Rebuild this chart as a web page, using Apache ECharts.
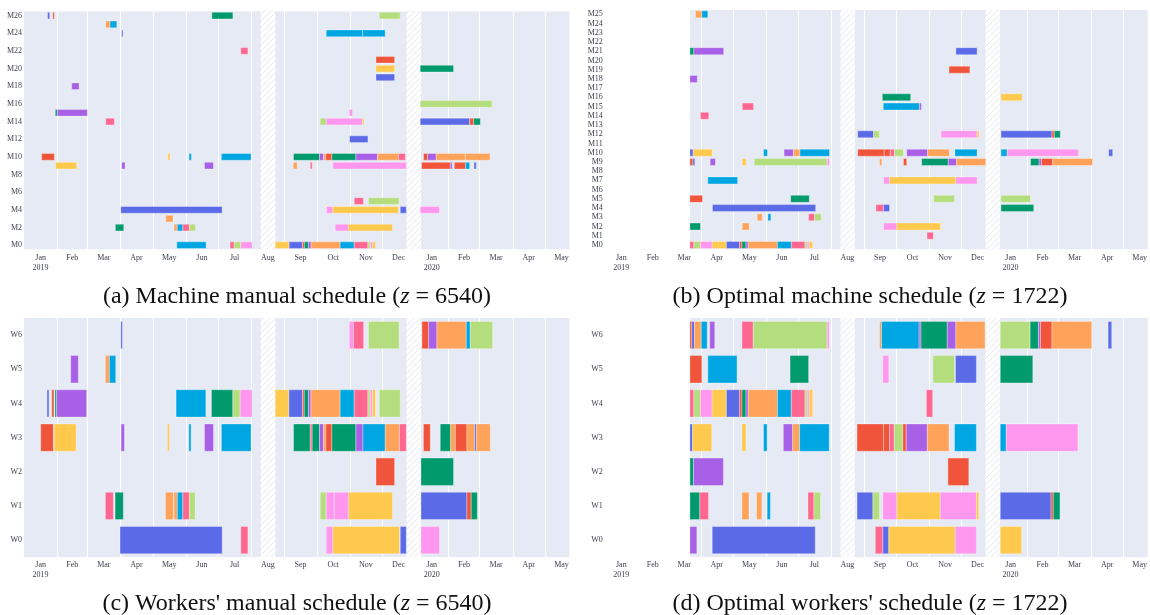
<!DOCTYPE html>
<html><head><meta charset="utf-8">
<script src="https://cdn.jsdelivr.net/npm/echarts@6/dist/echarts.min.js"></script>
<style>html,body{margin:0;padding:0;background:#fff}#c{width:1150px;height:615px}</style>
</head><body><div id="c"></div>
<script>
// ---------- axis labels ----------
const machinesA = Array.from({length:27}, (_, i) => 'M' + i);   // M0..M26
const machinesB = Array.from({length:26}, (_, i) => 'M' + i);   // M0..M25
const workers = ['W0','W1','W2','W3','W4','W5','W6'];
const monthLabels = ['Jan\n2019','Feb','Mar','Apr','May','Jun','Jul','Aug','Sep','Oct','Nov','Dec','Jan\n2020','Feb','Mar','Apr','May'];
const captions = [
  '(a) Machine manual schedule ({i|z} = 6540)',
  '(b) Optimal machine schedule ({i|z} = 1722)',
  "(c) Workers' manual schedule ({i|z} = 6540)",
  "(d) Optimal workers' schedule ({i|z} = 1722)"
];
// job colours
const jobColors = ['#5B6BE8','#F0553B','#009A6C','#A860E6','#FFA25A','#00A6E2','#FF6690','#B4DE7E','#FF97EE','#FFC94E'];

// day offsets from 2019-01-01
const horizonEnd = 509;
const manualStart = 0, optimalStart = 80;
const holidays = [[221, 234.5], [357, 370.5]];

// tasks: [row, startDay, endDay, job]
const tasksA = [
  [26,22,24,0],[26,26.8,28.3,1],[26,175.3,194.9,2],[26,331.5,351,7],
  [25,76.3,80.3,4],[25,80.3,86.6,5],
  [24,91.2,92.4,0],[24,282,316,5],[24,316,337,5],
  [22,202.3,208.9,6],
  [21,328.4,345.8,1],
  [20,328.4,345.8,9],[20,369.7,400.8,2],
  [19,328.4,345.8,0],
  [18,44.5,51.4,3],
  [16,369.7,436.7,7],
  [15,29.2,31.1,2],[15,31.1,59.1,3],[15,303.5,306.6,8],
  [14,76.3,84.3,6],[14,276.4,282,7],[14,282,315.9,8],[14,315.9,317.2,9],[14,369.7,415.8,0],[14,415.8,419.6,1],[14,419.6,425.8,2],
  [12,303.8,320.9,0],
  [10,16.5,28.3,1],[10,134.2,136.3,9],[10,154,156.2,5],[10,184.2,211.9,5],[10,251.5,275.7,2],[10,275.7,279.5,3],[10,279.5,281.7,4],[10,281.7,287.3,1],[10,287.3,309.7,2],[10,309.7,329.9,3],[10,329.9,349.5,4],[10,349.5,355.8,6],[10,372.8,376.6,1],[10,376.6,384.7,3],[10,384.7,411.8,4],[10,411.8,434.9,4],
  [9,29.6,49.2,9],[9,91.2,94.3,3],[9,168.4,176.8,3],[9,251.2,254.9,4],[9,267.1,268.9,6],[9,288.2,356.7,8],[9,371,397.8,1],[9,397.8,399.6,3],[9,401.5,412.1,1],[9,412.1,415.8,5],[9,419.9,422,0],
  [5,308.1,316.8,6],[5,321.4,349.9,7],
  [4,90.3,184.9,0],[4,282.3,288.2,8],[4,288.2,349.5,9],[4,351.1,356.7,0],[4,369.7,387.7,8],
  [3,132.3,139.1,4],
  [2,85.3,93.1,2],[2,140,143.1,4],[2,143.1,148.2,5],[2,148.2,154.4,6],[2,154.4,160,7],[2,290.4,302.8,8],[2,302.8,343.9,9],
  [0,142.6,169.9,5],[0,192.3,196.1,6],[0,196.1,202.3,7],[0,202.3,212.9,8],[0,234.4,247.4,9],[0,247.4,259.8,0],[0,259.8,261.6,1],[0,261.6,265.4,2],[0,265.4,267.9,3],[0,267.9,295,4],[0,295,308.1,5],[0,308.1,320.9,6],[0,320.9,323.1,7],[0,323.1,325.2,8],[0,325.2,328,9]
];
const tasksB = [
  [25,85.1,91,4],[25,91,96.6,5],
  [21,79.8,83.5,2],[21,83.5,111.5,3],[21,329.2,349.1,0],
  [19,322.7,342.3,1],
  [18,79.8,86.7,3],
  [16,260.2,286.8,2],[16,371.5,391.3,9],
  [15,128.9,139.5,6],[15,261.1,295,5],[15,295,296.8,3],
  [14,89.7,97.5,6],
  [12,237.1,252.1,0],[12,252.1,257.6,7],[12,315.2,349.1,8],[12,349.1,350.9,9],[12,371.5,419.3,0],[12,419.3,421.5,1],[12,421.5,427.1,2],
  [10,79.8,82.9,0],[10,82.9,100.7,9],[10,148.8,152.5,5],[10,168.1,176.8,3],[10,176.8,183,4],[10,183,210.7,5],[10,237.1,262,1],[10,262,267.6,1],[10,267.6,271.6,6],[10,271.6,280,7],[10,283.1,302.7,3],[10,302.7,323,4],[10,328.3,349.1,5],[10,371.5,377.3,5],[10,377.3,444.2,8],[10,472.5,476.2,0],
  [9,79.8,82.6,1],[9,82.6,84.4,0],[9,98.8,103.7,3],[9,128.9,132.6,9],[9,140.1,208.5,7],[9,208.5,210.7,8],[9,257.6,259.8,4],[9,280,283.1,1],[9,297.1,322,2],[9,322,329.8,3],[9,329.8,357.2,4],[9,399.2,407.2,2],[9,407.2,409.4,3],[9,409.4,420,1],[9,420,457.3,4],
  [7,96.6,124.5,5],[7,261.4,267,8],[7,267,329.2,9],[7,329.2,349.1,8],
  [5,79.8,91.6,1],[5,174.3,191.7,2],[5,308.3,327.9,7],[5,371.5,399.2,7],
  [4,100.9,197.7,0],[4,254.2,261.4,6],[4,261.4,267,0],[4,371.5,402.2,2],
  [3,142.9,147.6,4],[3,152.9,155.7,5],[3,191.1,196.7,6],[3,196.7,202.9,7],
  [2,79.8,89.7,2],[2,128.9,135.4,4],[2,261.4,273.8,8],[2,273.8,314.8,9],
  [1,302.1,308,6],
  [0,79.8,83.5,6],[0,83.5,89.7,7],[0,89.7,100.7,8],[0,100.7,114,9],[0,114,126.4,0],[0,126.4,128.6,1],[0,128.6,132.4,2],[0,132.4,134.5,3],[0,134.5,161.9,4],[0,161.9,174.9,5],[0,174.9,187.7,6],[0,187.7,189.8,7],[0,189.8,191.7,8],[0,191.7,194.9,9]
];
const tasksC = [
  [6,90.3,91.8,0],[6,303.5,307.5,8],[6,307.5,316.9,6],[6,321.4,350,7],[6,371.3,377.5,1],[6,377.5,385.3,3],[6,385.3,412.7,4],[6,412.7,416.4,5],[6,416.4,437.3,7],
  [5,43.6,50.7,3],[5,75.9,79.7,4],[5,79.7,85.6,5],
  [4,21.5,23.3,0],[4,25.9,28,1],[4,28.9,30.5,2],[4,30.5,58.5,3],[4,141.9,169.7,5],[4,174.9,194.9,2],[4,194.9,201.7,7],[4,201.7,212.9,8],[4,234.4,247.2,9],[4,247.2,259.9,0],[4,259.9,261.5,1],[4,261.5,265.4,2],[4,265.4,267.7,3],[4,267.7,295,4],[4,295,308.1,5],[4,308.1,320.9,6],[4,320.9,323.1,7],[4,323.1,325.2,8],[4,325.2,328,9],[4,331.5,351.1,7],
  [3,15.6,27.4,1],[3,28.3,48.6,9],[3,90.6,93.7,3],[3,133.8,135.7,9],[3,153.8,155.9,5],[3,168.4,176.8,3],[3,184.2,211.9,5],[3,251.5,267.1,2],[3,267.1,268.9,6],[3,268.9,275.7,2],[3,275.7,279.5,3],[3,279.5,281.7,4],[3,281.7,287.3,1],[3,287.3,309.7,2],[3,309.7,316.3,3],[3,316.3,337.1,5],[3,337.1,350.4,4],[3,350.4,356.7,6],[3,372.7,379.1,1],[3,388.4,398.1,2],[3,398.1,402.5,4],[3,402.5,413.3,1],[3,413.3,420.5,4],[3,420.5,422.1,0],[3,422.1,435.1,4],
  [2,328.4,345.8,1],[2,370.4,400.8,2],
  [1,75.9,83.4,6],[1,85,92.7,2],[1,132,139.4,4],[1,140,143.1,4],[1,143.1,148.2,5],[1,148.2,154.4,6],[1,154.4,159.7,7],[1,276.4,282,7],[1,282,289.5,8],[1,289.5,302.8,8],[1,302.8,343.9,9],[1,370.4,413.3,0],[1,413.3,417.3,1],[1,417.3,423,2],
  [0,89.6,184.9,0],[0,202.3,208.9,6],[0,282,288.2,8],[0,288.2,350.4,9],[0,351.1,356.7,0],[0,370.4,387.7,8]
];
const tasksD = [
  [6,79.8,81.6,1],[6,81.6,84.1,0],[6,84.1,90.4,4],[6,90.4,96,5],[6,98.4,103.1,3],[6,128.6,139.2,6],[6,139.2,208.5,7],[6,208.5,210.4,8],[6,257.6,259.5,4],[6,259.5,294.7,5],[6,294.7,296.5,3],[6,296.5,321.1,2],[6,321.1,329.2,3],[6,329.2,356.5,4],[6,370.8,398.8,7],[6,398.8,406.6,2],[6,406.6,408.5,3],[6,408.5,419.3,1],[6,419.3,456.6,4],[6,471.9,475.3,0],
  [5,79.8,91,1],[5,96.6,124,5],[5,173.7,191.1,2],[5,260.7,266.3,8],[5,307.7,327.9,7],[5,328.8,348.4,0],[5,370.8,401.3,2],
  [4,79.8,83.5,6],[4,83.5,89.7,7],[4,89.7,100.7,8],[4,100.7,114,9],[4,114,126.4,0],[4,126.4,128.6,1],[4,128.6,132.4,2],[4,132.4,134.5,3],[4,134.5,161.9,4],[4,161.9,174.9,5],[4,174.9,187.7,6],[4,187.7,189.8,7],[4,189.8,191.7,8],[4,191.7,194.9,9],[4,301.5,307.4,6],
  [3,79.8,82.3,0],[3,82.3,100.3,9],[3,128.6,132.4,9],[3,148.8,152.2,5],[3,167.4,176.2,3],[3,176.2,182.7,4],[3,182.7,210.4,5],[3,236.5,261.4,1],[3,261.4,267,1],[3,267,271.4,6],[3,271.4,279.4,7],[3,279.4,282.6,1],[3,282.6,302.4,3],[3,302.4,322.7,4],[3,327.9,348.4,5],[3,370.8,376.4,5],[3,376.4,443.6,8],
  [2,79.8,83.2,2],[2,83.2,111.2,3],[2,321.7,341.3,1],
  [1,79.8,89.1,2],[1,89.1,97.2,6],[1,128.6,135.2,4],[1,142.3,147.3,4],[1,152.2,155.3,5],[1,190.5,196.1,6],[1,196.1,202.3,7],[1,236.5,251.4,0],[1,251.4,257.6,7],[1,260.7,273.8,8],[1,273.8,314.6,9],[1,314.6,348.4,8],[1,348.4,350.7,9],[1,370.8,418.4,0],[1,418.4,420.5,1],[1,420.5,426.8,2],
  [0,79.8,86.3,3],[0,100.7,197.3,0],[0,253.6,260.7,6],[0,260.7,266.3,0],[0,266.3,328.5,9],[0,328.5,348.4,8],[0,370.8,390.8,9]
];

// ---------- month geometry (calendar) ----------
const DAY = 86400000, T0 = Date.UTC(2019, 0, 1);
const monthStarts = [], monthMids = [];
for (let k = 0; k < 18; k++) {
  const s = (Date.UTC(2019, k, 1) - T0) / DAY, e = (Date.UTC(2019, k + 1, 1) - T0) / DAY;
  if (k > 0) monthStarts.push(s);
  if (k < 17) monthMids.push((s + e) / 2);
}

// hatch pattern
const pc = document.createElement('canvas'); pc.width = 6; pc.height = 6;
const g = pc.getContext('2d');
g.fillStyle = '#ffffff'; g.fillRect(0, 0, 6, 6);
g.strokeStyle = '#e7e9ef'; g.lineWidth = 1;
g.beginPath(); g.moveTo(0, 6); g.lineTo(6, 0); g.moveTo(-1, 1); g.lineTo(1, -1); g.moveTo(5, 7); g.lineTo(7, 5); g.stroke();
const hatch = { image: pc, repeat: 'repeat' };

const FONT = 'Liberation Serif';
const LABEL_COLOR = '#3b3f4c';

const panels = [
  { left: 24,    top: 11.2, height: 238.4, cats: machinesA, interval: 1, tasks: tasksA, start: manualStart,  bh: 0.76 },
  { left: 604.8, top: 9.7,  height: 239.9, cats: machinesB, interval: 0, tasks: tasksB, start: optimalStart, bh: 0.76 },
  { left: 24,    top: 318,  height: 239.2, cats: workers,   interval: 0, tasks: tasksC, start: manualStart,  bh: 0.8 },
  { left: 604.8, top: 318,  height: 239.2, cats: workers,   interval: 0, tasks: tasksD, start: optimalStart, bh: 0.8 }
];
const WIDTH = 545.5;

const grid = [], xAxis = [], yAxis = [], series = [];
panels.forEach((p, i) => {
  grid.push({ left: p.left, top: p.top, width: WIDTH, height: p.height, containLabel: false });
  xAxis.push({
    type: 'value', gridIndex: i, min: 0, max: horizonEnd,
    axisLine: { show: false }, axisTick: { show: false }, splitLine: { show: false },
    axisLabel: {
      customValues: monthMids, margin: 3, fontFamily: FONT, fontSize: 8, lineHeight: 10,
      color: LABEL_COLOR, hideOverlap: false,
      formatter: v => { let best = 0; monthMids.forEach((m, j) => { if (Math.abs(m - v) < Math.abs(monthMids[best] - v)) best = j; }); return monthLabels[best]; }
    }
  });
  yAxis.push({
    type: 'category', gridIndex: i, data: p.cats,
    axisLine: { show: false }, axisTick: { show: false }, splitLine: { show: false },
    axisLabel: { interval: p.interval, margin: 2, fontFamily: FONT, fontSize: 8, color: LABEL_COLOR }
  });
  // schedule horizon background
  series.push({
    type: 'custom', xAxisIndex: i, yAxisIndex: i, z: 1, silent: true, clip: true,
    data: [[p.start, horizonEnd]], encode: { x: [0, 1] },
    renderItem: (params, api) => {
      const cs = params.coordSys;
      const x0 = api.coord([api.value(0), 0])[0], x1 = api.coord([api.value(1), 0])[0];
      return { type: 'rect', shape: { x: x0, y: cs.y, width: x1 - x0, height: cs.height }, style: { fill: '#E5EAF5' } };
    }
  });
  // month gridlines
  series.push({
    type: 'custom', xAxisIndex: i, yAxisIndex: i, z: 2, silent: true, clip: true,
    data: monthStarts.map(d => [d]), encode: { x: 0 },
    renderItem: (params, api) => {
      const cs = params.coordSys;
      const x = Math.round(api.coord([api.value(0), 0])[0]) + 0.5;
      return { type: 'line', shape: { x1: x, y1: cs.y, x2: x, y2: cs.y + cs.height }, style: { stroke: '#ffffff', lineWidth: 1 } };
    }
  });
  // holiday bands
  series.push({
    type: 'custom', xAxisIndex: i, yAxisIndex: i, z: 3, silent: true, clip: true,
    data: holidays, encode: { x: [0, 1] },
    renderItem: (params, api) => {
      const cs = params.coordSys;
      const x0 = api.coord([api.value(0), 0])[0], x1 = api.coord([api.value(1), 0])[0];
      return { type: 'rect', shape: { x: x0, y: cs.y, width: x1 - x0, height: cs.height }, style: { fill: hatch } };
    }
  });
  // task bars
  series.push({
    type: 'custom', xAxisIndex: i, yAxisIndex: i, z: 4, clip: true,
    data: p.tasks, encode: { x: [1, 2], y: 0 },
    renderItem: (params, api) => {
      const r = api.value(0);
      const a = api.coord([api.value(1), r]), b = api.coord([api.value(2), r]);
      const h = api.size([0, 1])[1] * p.bh;
      return {
        type: 'rect',
        shape: { x: a[0], y: a[1] - h / 2, width: Math.max(b[0] - a[0], 1.2), height: h },
        style: { fill: jobColors[api.value(3)], stroke: 'rgba(255,255,255,0.55)', lineWidth: 0.6 }
      };
    }
  });
});

const capPos = [[297, 297], [870, 297], [297, 604], [870, 604]];
const graphic = captions.map((t, i) => ({
  type: 'text', x: capPos[i][0], y: capPos[i][1], z: 10,
  style: {
    text: t, fontFamily: FONT, fontSize: 24, fill: '#111', align: 'center', verticalAlign: 'middle',
    rich: { i: { fontFamily: FONT, fontSize: 24, fontStyle: 'italic', fill: '#111' } }
  }
}));

const chart = echarts.init(document.getElementById('c'), null, { renderer: 'canvas' });
chart.setOption({ animation: false, backgroundColor: '#ffffff', grid, xAxis, yAxis, series, graphic });
</script>
</body></html>
